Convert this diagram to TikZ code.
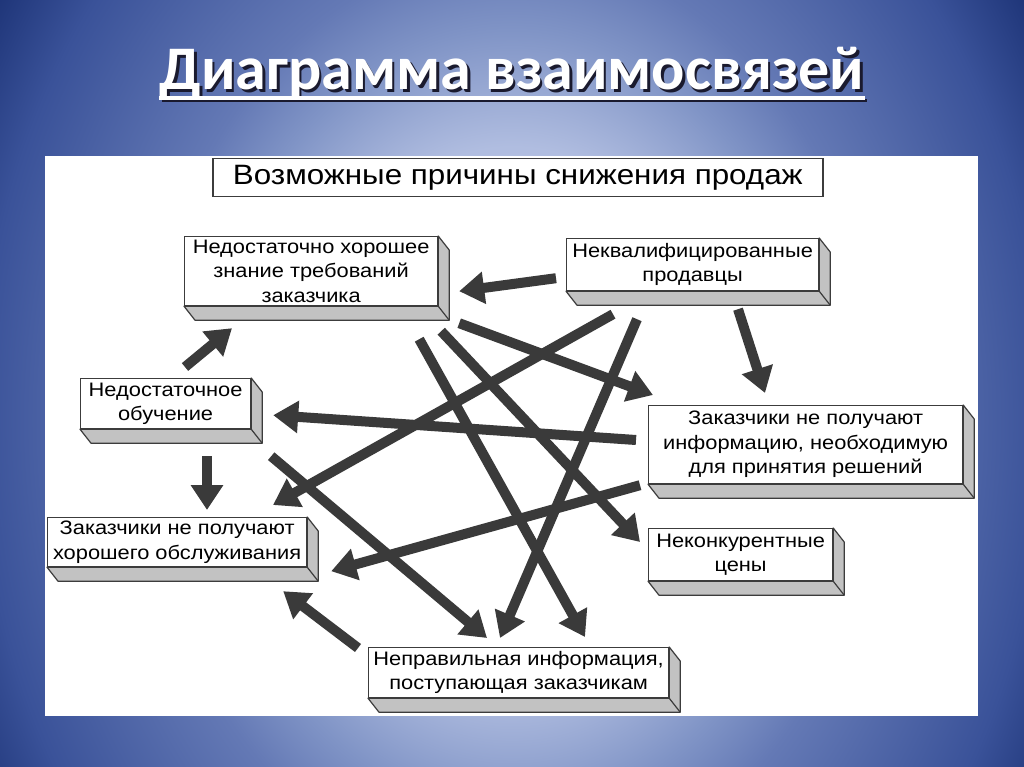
\documentclass[tikz,border=0pt]{standalone}
\usepackage{fontspec}
\setmainfont{Liberation Sans}
\newfontfamily\titlefont{Carlito}
\newfontfamily\boxfont[FakeStretch=1.12]{Liberation Sans}
\usetikzlibrary{arrows.meta,calc}
\definecolor{bgA}{HTML}{C8D1EC}
\definecolor{bgB}{HTML}{B0BDE0}
\definecolor{bgC}{HTML}{8094C6}
\definecolor{bgD}{HTML}{6479B5}
\definecolor{bgE}{HTML}{3A5299}
\definecolor{bgF}{HTML}{13296B}
\definecolor{bgG}{HTML}{0C205E}
\definecolor{arrowgray}{HTML}{3A3A3A}
\definecolor{boxedge}{HTML}{3C3C3C}
\definecolor{facegray}{HTML}{C2C2C2}
\definecolor{titleshadow}{HTML}{1A1A2E}
\pgfdeclareradialshading{slidebg}{\pgfpoint{0bp}{0bp}}{color(0bp)=(bgA); color(10.5bp)=(bgB); color(15bp)=(bgC); color(18bp)=(bgD); color(26bp)=(bgE); color(31.5bp)=(bgF); color(37.5bp)=(bgG); color(50bp)=(bgG)}
\newcommand\extrudebox[1]{%
  \filldraw[sideface] (#1.south west) -- ++(11,14) -- ($(#1.south east)+(11,14)$) -- ($(#1.north east)+(11,14)$) -- (#1.north east) -- (#1.south east) -- cycle;
  \draw[sideface,fill=none] (#1.south east) -- ++(11,14);
}
\newcommand\shadowedtitle[1]{\rlap{\hspace{2.5pt}\raisebox{-2.5pt}{\textcolor{titleshadow}{#1}}}\textcolor{white}{#1}}
\tikzset{
  box/.style={draw=boxedge, line width=1.2pt, fill=white, anchor=north west, align=center, inner sep=0pt,
    font=\boxfont\fontsize{19.5}{24.5}\selectfont},
  sideface/.style={fill=facegray, draw=boxedge, line width=1.2pt, line join=round},
  arr/.style={draw=arrowgray, line width=10pt, -{Triangle[width=31pt,length=25pt]}},
  titletext/.style={inner sep=0pt, anchor=base, font=\titlefont\bfseries\fontsize{62}{62}\selectfont},
}
\begin{document}
\begin{tikzpicture}[x=1pt,y=-1pt]
\useasboundingbox (0,0) rectangle (1024,767);
\begin{scope}
  \clip (0,0) rectangle (1024,767);
  \shade[shading=slidebg] (0,-230) rectangle (1024,1070);
\end{scope}
% title
\node[titletext] (title) at (512,90) {\shadowedtitle{Диаграмма взаимосвязей}};
\draw[titleshadow, line width=3.5pt] ($(title.base west)+(2.5,10.5)$) -- ($(title.base east)+(2.5,10.5)$);
\draw[white, line width=3.5pt] ($(title.base west)+(0,8)$) -- ($(title.base east)+(0,8)$);
% white panel
\fill[white] (45,156) rectangle (978,716);
% header
\node[draw=boxedge, line width=1.5pt, fill=white, anchor=north west, minimum width=610, minimum height=38, inner sep=0pt,
  font=\boxfont\fontsize{28}{30}\selectfont] (head) at (212,158) {Возможные причины снижения продаж};
% boxes
\node[box, minimum width=253, minimum height=69] (A) at (184,236) {Недостаточно хорошее\\знание требований\\заказчика};
\node[box, minimum width=252, minimum height=52] (B) at (566,238) {Неквалифицированные\\продавцы};
\node[box, minimum width=170, minimum height=50] (C) at (80,378) {Недостаточное\\обучение};
\node[box, minimum width=314, minimum height=78] (D) at (648,405) {Заказчики не получают\\информацию, необходимую\\для принятия решений};
\node[box, minimum width=259, minimum height=49] (E) at (47,517) {Заказчики не получают\\хорошего обслуживания};
\node[box, minimum width=184, minimum height=52] (F) at (648,528) {Неконкурентные\\цены};
\node[box, minimum width=300, minimum height=50] (G) at (368,647) {Неправильная информация,\\поступающая заказчикам};
\foreach \b in {A,B,C,D,E,F,G} {\extrudebox{\b}}
% arrows
\draw[arr] ($(B.south west)+(-10,-13)$) -- ($(A.south east)+(21,-15)$);
\draw[arr] ($(C.north west)+(105,-11)$) -- ($(A.south west)+(48,22)$);
\draw[arr] ($(C.south west)+(127,27)$) -- ($(E.north west)+(160,-7)$);
\draw[arr] ($(B.south west)+(172,18)$) -- ($(D.north west)+(117,-12)$);
\draw[arr] ($(A.south east)+(21,17)$) -- ($(D.north west)+(5,-10)$);
\draw[arr] ($(D.north west)+(-12,35)$) -- ($(C.south east)+(22,-14)$);
\draw[arr] ($(B.south west)+(47,23)$) -- ($(E.north west)+(226,-12)$);
\draw[arr] ($(B.south west)+(71,28)$) -- ($(G.north west)+(132,-9)$);
\draw[arr] ($(D.south west)+(-8,1)$) -- ($(E.south east)+(24,4)$);
\draw[arr] ($(A.south east)+(3,25)$) -- ($(F.north west)+(-8,14)$);
\draw[arr] ($(A.south east)+(-19,33)$) -- ($(G.north west)+(217,-10)$);
\draw[arr] ($(C.south east)+(20,27)$) -- ($(G.north west)+(119,-9)$);
\draw[arr] ($(G.north west)+(-10,1)$) -- ($(E.south east)+(-24,24)$);
\end{tikzpicture}
\end{document}
